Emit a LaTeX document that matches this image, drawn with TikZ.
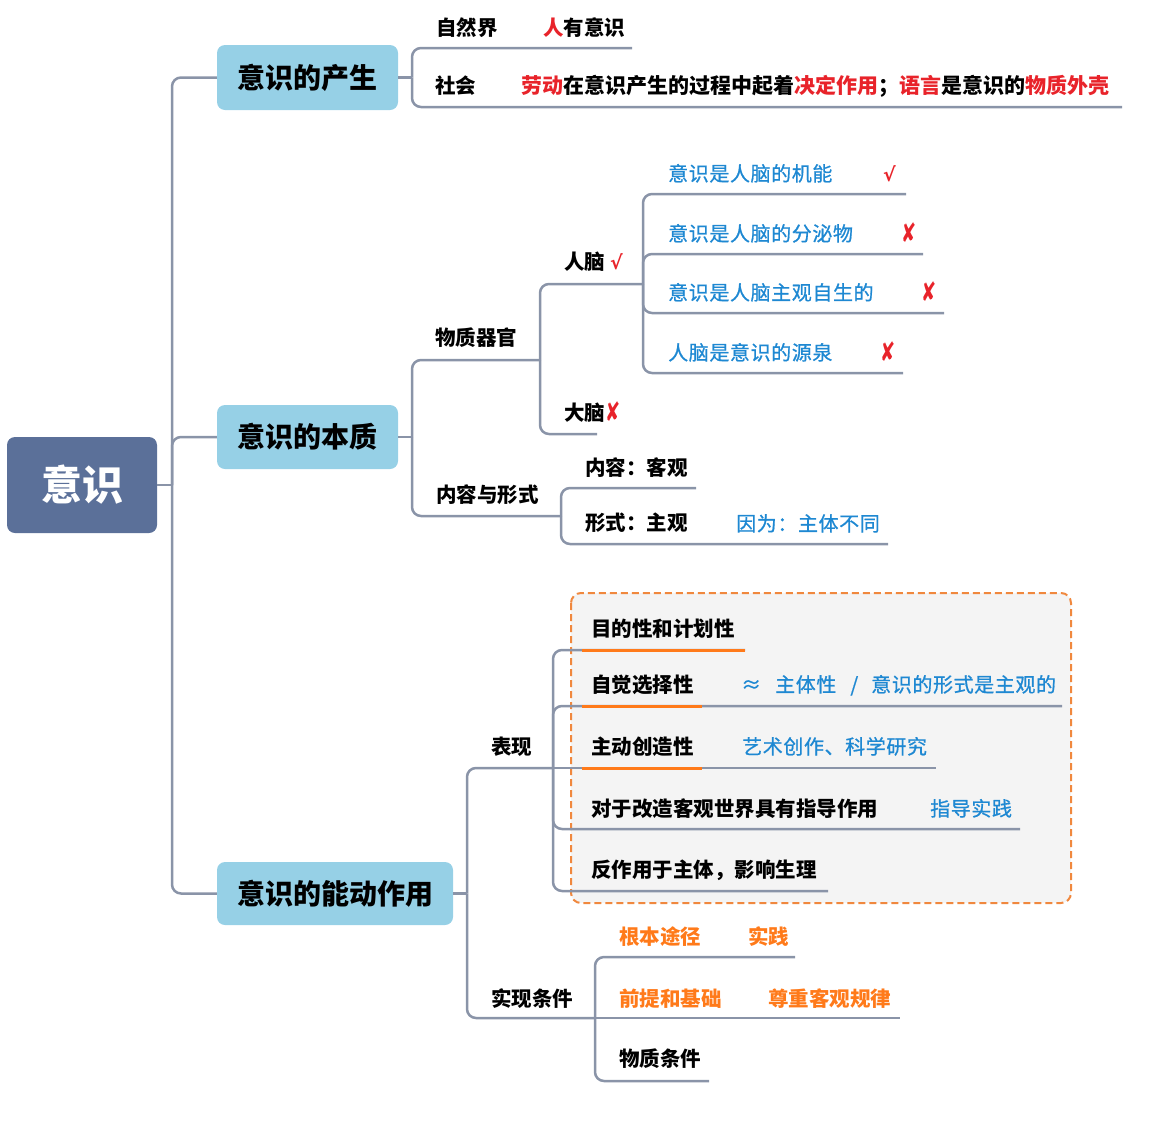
\documentclass[tikz,border=0pt]{standalone}
\usepackage{fontspec}
\usepackage{graphicx}
\setmainfont{Noto Sans CJK SC}
\newfontfamily\symfont{DejaVu Sans}
\newfontfamily\bluefont{Noto Sans CJK SC}[LetterSpace=3, FakeBold=0.8]
\newcommand{\redx}{\scalebox{0.95}[1.4]{✘}}
\definecolor{rootc}{RGB}{91,112,153}
\definecolor{lonec}{RGB}{150,208,230}
\definecolor{linec}{RGB}{138,148,168}
\definecolor{redc}{RGB}{232,35,42}
\definecolor{bluec}{RGB}{30,136,210}
\definecolor{orangec}{RGB}{255,122,26}
\definecolor{dashc}{RGB}{240,136,62}
\definecolor{panelc}{RGB}{244,244,244}
\begin{document}
\begin{tikzpicture}[x=1pt,y=-1pt,
  conn/.style={draw=linec, line width=2.5pt, rounded corners=9pt},
  hl/.style={draw=orangec, line width=3pt},
  txt/.style={anchor=base west, inner sep=0pt, font=\fontsize{20.5}{24}\selectfont\bfseries},
  btxt/.style={anchor=base west, inner sep=0pt, text=bluec, font=\fontsize{20}{24}\selectfont\bluefont},
  otxt/.style={anchor=base west, inner sep=0pt, text=orangec, font=\fontsize{20.5}{24}\selectfont\bfseries},
  tickmark/.style={anchor=base west, inner sep=0pt, text=redc, font=\fontsize{19}{22}\selectfont\symfont\bfseries},
  crossmark/.style={anchor=base west, inner sep=0pt, text=redc, font=\fontsize{19}{22}\selectfont\symfont},
  rootbox/.style={fill=rootc, rounded corners=8pt, inner sep=0pt, text=white, font=\fontsize{41}{44}\selectfont\bfseries},
  lonebox/.style={fill=lonec, rounded corners=8pt, inner sep=0pt, font=\fontsize{28}{32}\selectfont\bfseries}]
\useasboundingbox (0,0) rectangle (1155,1122);

% dashed panel
\draw[draw=dashc, fill=panelc, line width=2pt, dash pattern=on 7pt off 4pt, rounded corners=10pt] (571,593) rectangle (1071,903);

% nodes
\node[rootbox, minimum width=150pt, minimum height=96pt] (root) at (82,485) {意识};
\node[lonebox, minimum width=181pt, minimum height=65pt] (b1) at (307.5,77.5) {意识的产生};
\node[lonebox, minimum width=181pt, minimum height=64pt] (b2) at (307.5,437) {意识的本质};
\node[lonebox, minimum width=236pt, minimum height=63pt] (b3) at (335,893.5) {意识的能动作用};

% coordinates
\coordinate (t0) at (172,485);
\coordinate (j1) at (412,77.5);
\coordinate (e1a) at (632,48);
\coordinate (e1b) at (1122,107);
\coordinate (j2) at (412,437);
\coordinate (j2a) at (540,360);
\coordinate (j2b) at (561,516);
\coordinate (j2aa) at (643,284);
\coordinate (e2ab) at (597,434);
\coordinate (e2aa1) at (906,194);
\coordinate (e2aa2) at (923,254);
\coordinate (e2aa3) at (944,313);
\coordinate (e2aa4) at (903,373);
\coordinate (e2b1) at (696,488);
\coordinate (e2b2) at (888,544);
\coordinate (j3) at (467,893.5);
\coordinate (j3a) at (553,768);
\coordinate (j3b) at (595,1018);
\coordinate (e3a1) at (745,650);
\coordinate (e3a2) at (1062,706);
\coordinate (e3a3) at (936,768);
\coordinate (e3a4) at (1020,829);
\coordinate (e3a5) at (828,891);
\coordinate (e3b1) at (795,957);
\coordinate (e3b2) at (900,1018);
\coordinate (e3b3) at (709,1081);

% connectors
\draw[conn] (root.east) -- (t0);
\draw[conn] (t0) |- (b1.west);
\draw[conn] (t0) |- (b2.west);
\draw[conn] (t0) |- (b3.west);

\draw[conn] (b1.east) -- (j1);
\draw[conn] (j1) |- (e1a);
\draw[conn] (j1) |- (e1b);

\draw[conn] (b2.east) -- (j2);
\draw[conn] (j2) |- (j2a);
\draw[conn] (j2) |- (j2b);
\draw[conn] (j2a) |- (j2aa);
\draw[conn] (j2a) |- (e2ab);
\draw[conn] (j2aa) |- (e2aa1);
\draw[conn] (j2aa) |- (e2aa2);
\draw[conn] (j2aa) |- (e2aa3);
\draw[conn] (j2aa) |- (e2aa4);
\draw[conn] (j2b) |- (e2b1);
\draw[conn] (j2b) |- (e2b2);

\draw[conn] (b3.east) -- (j3);
\draw[conn] (j3) |- (j3a);
\draw[conn] (j3) |- (j3b);
\draw[conn] (j3a) |- (e3a1);
\draw[conn] (j3a) |- (e3a2);
\draw[conn] (j3a) -- (e3a3);
\draw[conn] (j3a) |- (e3a4);
\draw[conn] (j3a) |- (e3a5);
\draw[conn] (j3b) |- (e3b1);
\draw[conn] (j3b) -- (e3b2);
\draw[conn] (j3b) |- (e3b3);

% orange highlights
\draw[hl] (582,650) -- (e3a1);
\draw[hl] (582,706) -- (702,706);
\draw[hl] (582,768) -- (702,768);

% texts branch 1
\node[txt] (n1a) at (436,35) {自然界};
\node[txt] (n1a2) at (543,35) {{\color{redc}人}有意识};
\node[txt] (n1b) at (435,93) {社会};
\node[txt, font=\fontsize{21}{24}\selectfont\bfseries] (n1b2) at (521,93) {{\color{redc}劳动}在意识产生的过程中起着{\color{redc}决定作用}；{\color{redc}语言}是意识的{\color{redc}物质外壳}};

% texts branch 2
\node[txt] (n2a) at (435,345) {物质器官};
\node[txt] (n2aa) at (564,269) {人脑};
\node[tickmark] (m2aa) at (610,269) {√};
\node[txt] (n2ab) at (564,420) {大脑};
\node[crossmark] (m2ab) at (605,421) {\redx};
\node[btxt] (s1) at (668,181) {意识是人脑的机能};
\node[tickmark] (m1) at (883,181) {√};
\node[btxt] (s2) at (668,241) {意识是人脑的分泌物};
\node[crossmark] (m2) at (901,242) {\redx};
\node[btxt] (s3) at (668,300) {意识是人脑主观自生的};
\node[crossmark] (m3) at (921,301) {\redx};
\node[btxt] (s4) at (668,360) {人脑是意识的源泉};
\node[crossmark] (m4) at (880,361) {\redx};
\node[txt] (n2b) at (436,502) {内容与形式};
\node[txt] (n2b1) at (585,475) {内容：客观};
\node[txt] (n2b2) at (585,530) {形式：主观};
\node[btxt] (n2b2x) at (736,531) {因为：主体不同};

% texts branch 3
\node[txt] (n3a) at (491,754) {表现};
\node[txt] (p1) at (591,636) {目的性和计划性};
\node[txt] (p2) at (591,692) {自觉选择性};
\node[btxt] (p2x) at (741,692) {≈\hspace{14pt}主体性\hspace{14pt}/\hspace{13pt}意识的形式是主观的};
\node[txt] (p3) at (591,754) {主动创造性};
\node[btxt] (p3x) at (742,754) {艺术创作、科学研究};
\node[txt] (p4) at (591,816) {对于改造客观世界具有指导作用};
\node[btxt] (p4x) at (930,816) {指导实践};
\node[txt] (p5) at (591,877) {反作用于主体，影响生理};
\node[txt] (n3b) at (491,1006) {实现条件};
\node[otxt] (q1) at (619,944) {根本途径};
\node[otxt] (q1x) at (748,944) {实践};
\node[otxt] (q2) at (619,1006) {前提和基础};
\node[otxt] (q2x) at (768,1006) {尊重客观规律};
\node[txt] (q3) at (619,1066) {物质条件};
\end{tikzpicture}
\end{document}
